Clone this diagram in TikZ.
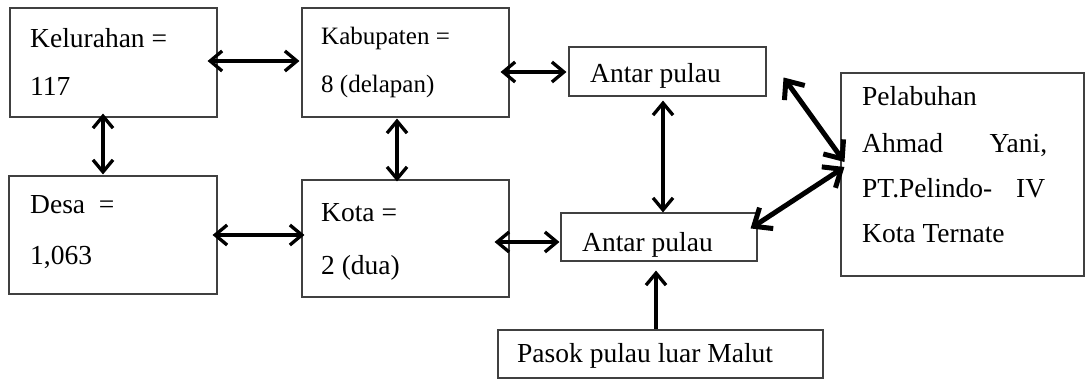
\documentclass[tikz,border=0pt]{standalone}
\usepackage{fontspec}
\setmainfont{Liberation Serif}
\usetikzlibrary{arrows.meta,calc}
\tikzset{
  box/.style={draw=black!75, line width=1.1pt, rectangle, inner sep=0pt},
  txt/.style={anchor=base west, inner sep=0pt, font=\fontsize{27.5}{31}\selectfont},
  txtsm/.style={anchor=base west, inner sep=0pt, font=\fontsize{25}{29}\selectfont},
  arr/.style={line width=3.3pt, {Straight Barb[length=12pt,width=20pt]}-{Straight Barb[length=12pt,width=20pt]}},
  arrone/.style={line width=3.3pt, -{Straight Barb[length=12pt,width=20pt]}},
  darr/.style={line width=5pt, {Straight Barb[length=15pt,width=25pt]}-{Straight Barb[length=15pt,width=25pt]}},
}
\begin{document}
\begin{tikzpicture}[x=1pt,y=-1pt]
\useasboundingbox (0,0) rectangle (1088,380);
% boxes
\node[box, minimum width=207pt, minimum height=109pt] (kel) at (113.5,62.5) {};
\node[box, minimum width=207pt, minimum height=109pt] (kab) at (405.5,62.5) {};
\node[box, minimum width=197pt, minimum height=49pt] (ant1) at (667.5,71.5) {};
\node[box, minimum width=208pt, minimum height=118pt] (desa) at (113,235) {};
\node[box, minimum width=207pt, minimum height=117pt] (kota) at (405.5,238.5) {};
\node[box, minimum width=196pt, minimum height=48pt] (ant2) at (659,237) {};
\node[box, minimum width=243pt, minimum height=203pt] (pel) at (962.5,174.5) {};
\node[box, minimum width=325pt, minimum height=48pt] (pasok) at (660.5,354) {};
% texts
\node[txt] (t1) at (30,47) {Kelurahan =};
\node[txt] (t2) at (30,95) {117};
\node[txtsm] (t3) at (321,45) {Kabupaten =};
\node[txtsm] (t4) at (321,92) {8 (delapan)};
\node[txt] (t5) at (590,82) {Antar pulau};
\node[txt] (t6) at (30,213) {Desa\ \ =};
\node[txt] (t7) at (30,264) {1,063};
\node[txt] (t8) at (321,221) {Kota =};
\node[txt] (t9) at (321,274) {2 (dua)};
\node[txt] (t10) at (582,251) {Antar pulau};
\node[txt] (t11) at (517,362) {Pasok pulau luar Malut};
\node[txt] (p1) at (862,105) {Pelabuhan};
\node[txt] (p2) at (862,152) {\hbox to 185pt{Ahmad\hfill Yani,}};
\node[txt] (p3) at (862,197) {\hbox to 183pt{PT.Pelindo-\hfill IV}};
\node[txt] (p4) at (862,242) {Kota Ternate};
% connectors
\draw[arr] ($(kel.east)+(-10,-1.5)$) -- ($(kab.west)+(-2,-1.5)$);
\draw[arr] ($(kab.east)+(-9,9.5)$) -- ($(ant1.west)+(-2,0.5)$);
\draw[arr] ($(kel.south)+(-10.5,-4)$) -- ($(desa.north)+(-10,-1)$);
\draw[arr] ($(kab.south)+(-8.5,1)$) -- ($(kota.north)+(-8.5,2)$);
\draw[arr] ($(desa.east)+(-5,0)$) -- ($(kota.west)+(3,-3.5)$);
\draw[arr] ($(kota.east)+(-15,3.5)$) -- ($(ant2.west)+(-1,5)$);
\draw[arr] ($(ant1.south)+(-4.5,4)$) -- ($(ant2.north)+(4,0)$);
\draw[darr] ($(ant1.north east)+(17,31)$) -- ($(pel.west)+(4,-12.5)$);
\draw[darr] ($(ant2.north east)+(-7,16)$) -- ($(pel.west)+(4,-7.5)$);
\draw[arrone] ($(pasok.north)+(-4.5,0)$) -- ($(ant2.south)+(-3,9)$);
\end{tikzpicture}
\end{document}
